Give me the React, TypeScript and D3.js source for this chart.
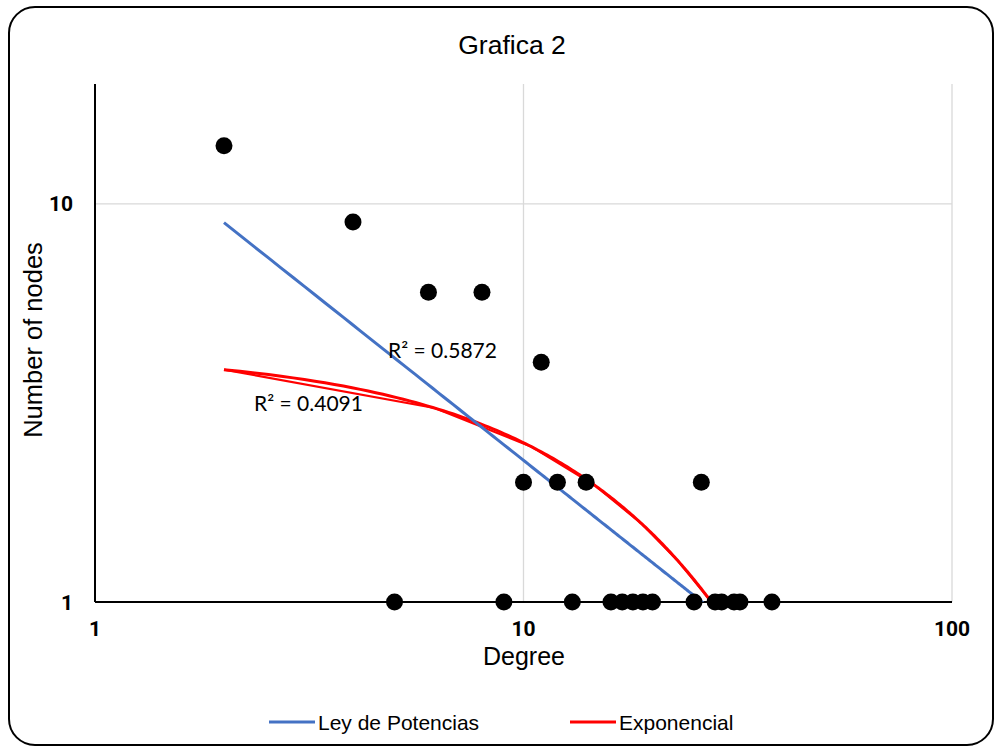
import React, { useEffect, useRef } from 'react';
import * as d3 from 'd3';

// degree of each node group and how many nodes have it
const degree = [2, 4, 6, 8, 11, 10, 12, 14, 26, 5, 9, 13, 16, 17, 18, 19, 20, 25, 28, 29, 31, 32, 38];
const nodeCount = [14, 9, 6, 6, 4, 2, 2, 2, 2, 1, 1, 1, 1, 1, 1, 1, 1, 1, 1, 1, 1, 1, 1];

const xTicks = [1, 10, 100];
const yTicks = [1, 10];
const r2Power = 'R² = 0.5872';
const r2Expo = 'R² = 0.4091';
const legendItems = [
  { name: 'Ley de Potencias', color: '#4472C4' },
  { name: 'Exponencial', color: '#FF0000' },
];

const W = 1002;
const H = 753;
const SANS = 'Arial, "Liberation Sans", sans-serif';
const BOLD = 'Roboto, Arial, sans-serif';

// least squares on ln(y) against f(x)
function fitLn(xs: number[], ys: number[], fx: (v: number) => number) {
  const u = xs.map(fx);
  const v = ys.map(Math.log);
  const mu = d3.mean(u)!;
  const mv = d3.mean(v)!;
  const sxy = d3.sum(u, (d, i) => (d - mu) * (v[i] - mv));
  const sxx = d3.sum(u, d => (d - mu) * (d - mu));
  const b = sxy / sxx;
  const a = Math.exp(mv - b * mu);
  return { a, b };
}

const App = () => {
  const svgRef = useRef(null);

  useEffect(() => {
    document.body.style.margin = '0';
    const svg = d3.select(svgRef.current);
    svg.selectAll('*').remove();

    const left = 95, right = 952, top = 84, bottom = 602;

    const x = d3.scaleLog().domain([1, 100]).range([left, right]);
    const y = d3.scaleLog().domain([1, 20]).range([bottom, top]);

    // chart frame
    svg.append('rect')
      .attr('x', 9).attr('y', 7)
      .attr('width', 984).attr('height', 738)
      .attr('rx', 26).attr('ry', 26)
      .style('fill', '#fff')
      .style('stroke', '#000')
      .style('stroke-width', 2);

    svg.append('defs').append('clipPath').attr('id', 'plot')
      .append('rect')
      .attr('x', left).attr('y', top)
      .attr('width', right - left).attr('height', bottom - top);

    // gridlines
    svg.selectAll('.vgrid')
      .data(xTicks.slice(1))
      .enter().append('line')
      .attr('x1', d => x(d)).attr('x2', d => x(d))
      .attr('y1', top).attr('y2', bottom)
      .style('stroke', '#d9d9d9').style('stroke-width', 1.3);
    svg.selectAll('.hgrid')
      .data(yTicks.slice(1))
      .enter().append('line')
      .attr('x1', left).attr('x2', right)
      .attr('y1', d => y(d)).attr('y2', d => y(d))
      .style('stroke', '#d9d9d9').style('stroke-width', 1.3);

    // axes
    svg.append('line')
      .attr('x1', left).attr('x2', left).attr('y1', top).attr('y2', bottom)
      .style('stroke', '#000').style('stroke-width', 2);
    svg.append('line')
      .attr('x1', left).attr('x2', right).attr('y1', bottom).attr('y2', bottom)
      .style('stroke', '#000').style('stroke-width', 2);

    svg.selectAll('.xtick')
      .data(xTicks)
      .enter().append('text')
      .attr('x', d => x(d)).attr('y', 636)
      .attr('text-anchor', 'middle')
      .style('font-family', BOLD)
      .style('font-weight', 'bold').style('font-size', '21px')
      .text(d => d);
    svg.selectAll('.ytick')
      .data(yTicks)
      .enter().append('text')
      .attr('x', 73).attr('y', d => y(d)).attr('dy', '0.36em')
      .attr('text-anchor', 'end')
      .style('font-family', BOLD)
      .style('font-weight', 'bold').style('font-size', '21px')
      .text(d => d);

    // trendlines
    const plot = svg.append('g').attr('clip-path', 'url(#plot)');
    const [x0, x1] = d3.extent(degree) as [number, number];
    const pw = fitLn(degree, nodeCount, Math.log);
    const ex = fitLn(degree, nodeCount, d => d);
    const powerFn = (v: number) => pw.a * Math.pow(v, pw.b);
    const expoFn = (v: number) => ex.a * Math.exp(ex.b * v);

    const line = d3.line<number[]>().x(d => x(d[0])).y(d => y(Math.max(d[1], 0.5)));
    const fine = d3.range(0, 201).map(i => x0 + (x1 - x0) * i / 200);
    const coarse = d3.range(x0, x1 + 0.01, 4.2);

    plot.append('path')
      .attr('d', line(coarse.map(v => [v, expoFn(v)])))
      .style('fill', 'none').style('stroke', '#FF0000').style('stroke-width', 2.2);
    plot.append('path')
      .attr('d', line(fine.map(v => [v, expoFn(v)])))
      .style('fill', 'none').style('stroke', '#FF0000').style('stroke-width', 3);
    plot.append('path')
      .attr('d', line(fine.map(v => [v, powerFn(v)])))
      .style('fill', 'none').style('stroke', '#4472C4').style('stroke-width', 3);

    // points
    svg.selectAll('.dot')
      .data(degree)
      .enter().append('circle')
      .attr('cx', d => x(d))
      .attr('cy', (d, i) => y(nodeCount[i]))
      .attr('r', 8.5)
      .style('fill', '#000');

    // R squared labels
    svg.append('text').attr('x', 388).attr('y', 358)
      .style('font-family', 'Lato, Carlito, sans-serif').style('font-size', '21px')
      .text(r2Power);
    svg.append('text').attr('x', 254).attr('y', 411)
      .style('font-family', 'Lato, Carlito, sans-serif').style('font-size', '21px')
      .text(r2Expo);

    // titles
    svg.append('text')
      .attr('x', 512).attr('y', 54)
      .attr('text-anchor', 'middle')
      .style('font-family', SANS).style('font-size', '26.5px')
      .text('Grafica 2');
    svg.append('text')
      .attr('x', 524).attr('y', 665)
      .attr('text-anchor', 'middle')
      .style('font-family', SANS).style('font-size', '25px')
      .text('Degree');
    svg.append('text')
      .attr('transform', 'rotate(-90)')
      .attr('x', -340).attr('y', 42)
      .attr('text-anchor', 'middle')
      .style('font-family', SANS).style('font-size', '25.5px')
      .text('Number of nodes');

    // legend
    const lg = svg.selectAll('.legend')
      .data(legendItems)
      .enter().append('g')
      .attr('transform', (d, i) => `translate(${269 + i * 301}, 722)`);
    lg.append('line')
      .attr('x1', 0).attr('x2', 46).attr('y1', 0).attr('y2', 0)
      .style('stroke', d => d.color).style('stroke-width', 3);
    lg.append('text')
      .attr('x', 49).attr('y', 0).attr('dy', '0.36em')
      .style('font-family', SANS).style('font-size', '21px')
      .text(d => d.name);
  }, []);

  return (
    <svg ref={svgRef} width={W} height={H} style={{ display: 'block' }}></svg>
  );
};

export default App;
